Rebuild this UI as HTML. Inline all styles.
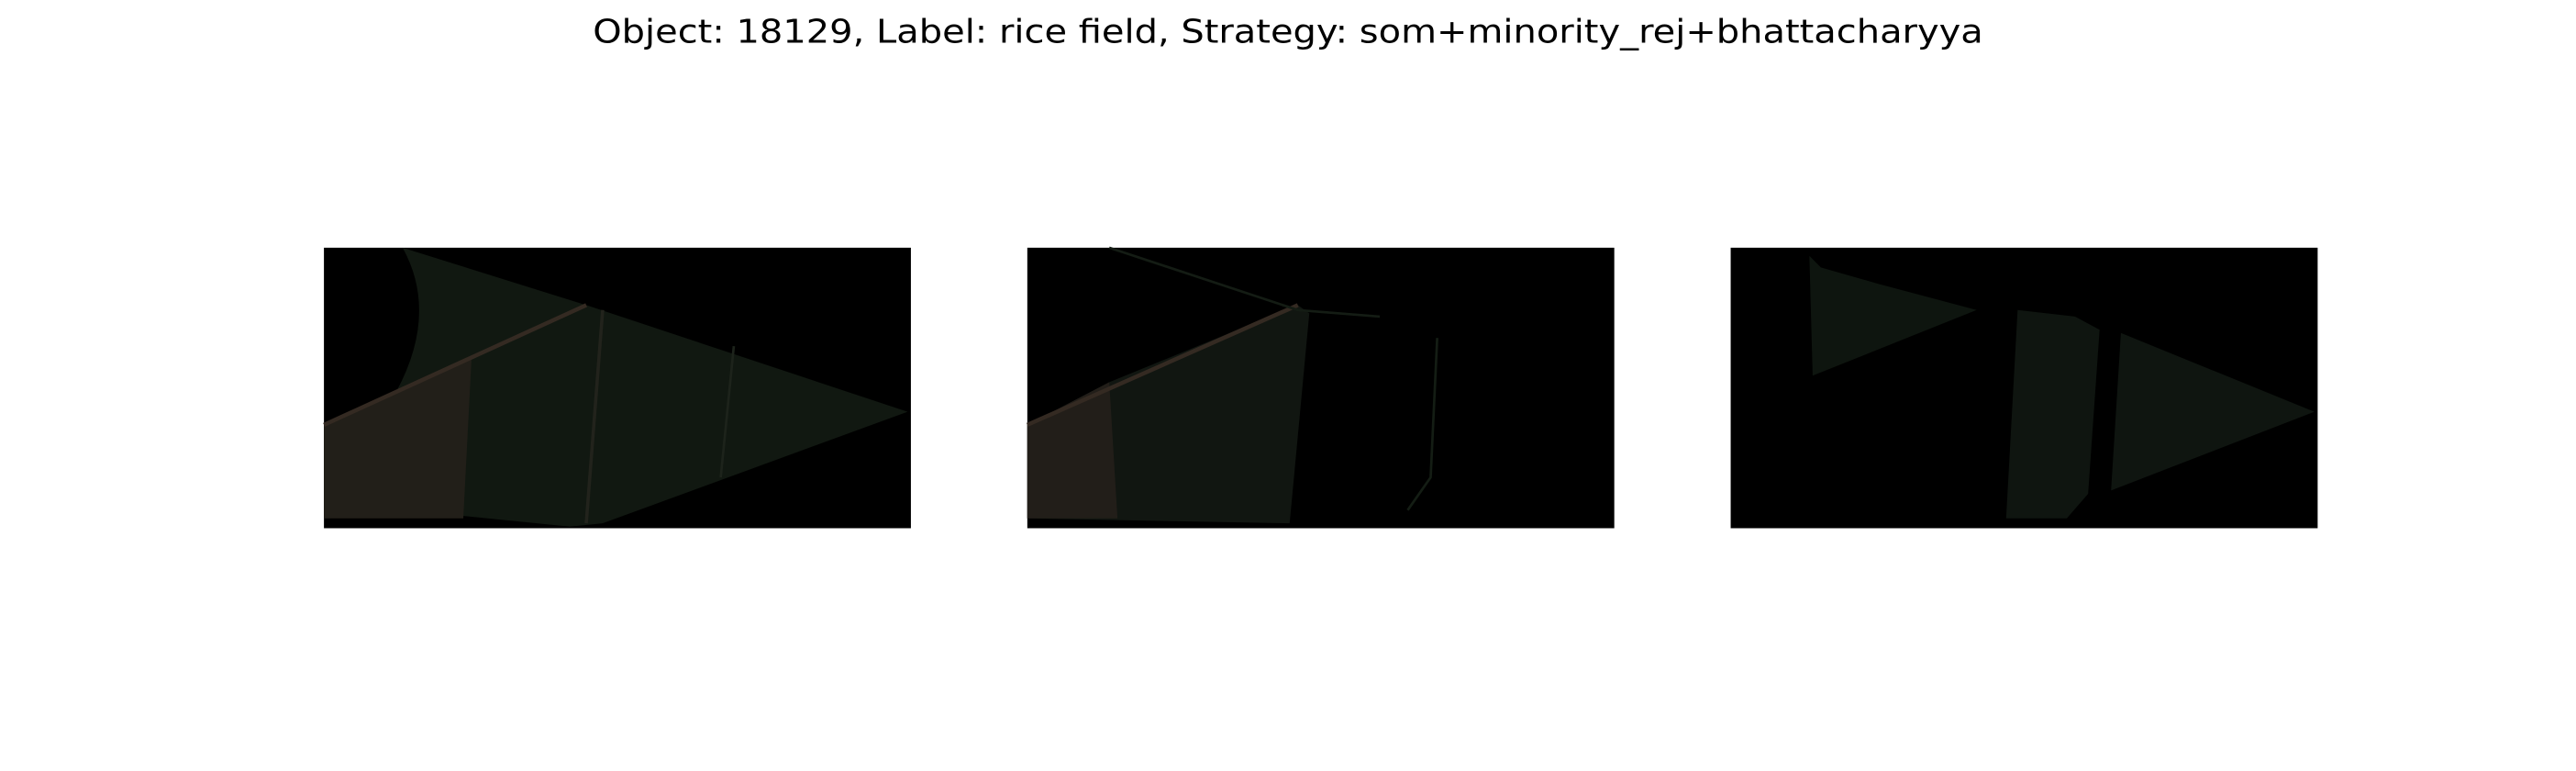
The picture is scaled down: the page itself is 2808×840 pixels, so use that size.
<!DOCTYPE html>
<html><head><meta charset="utf-8"><style>
html,body{margin:0;padding:0;background:#fff;}
svg{display:block;}
</style></head><body>
<svg width="2808" height="840" viewBox="0 0 1568 470" xmlns="http://www.w3.org/2000/svg">
<text x="784" y="26" text-anchor="middle" font-family="DejaVu Sans, Liberation Sans, sans-serif" font-size="20" textLength="848" lengthAdjust="spacingAndGlyphs" fill="#000">Object: 18129, Label: rice field, Strategy: som+minority_rej+bhattacharyya</text>

<g transform="translate(196,151)">
<rect width="358" height="171" fill="#000"/>
<path d="M48,0 Q70,40 44,88 L0,108 L0,165 L80,163 L150,170 L170,168 L356,100 L160,35 Z" fill="#111811"/>
<path d="M0,108 L44,88 L90,68 L85,165 L0,165 Z" fill="#221f19"/>
<path d="M0,108 L160,35" stroke="#342a22" stroke-width="2.5" fill="none"/>
<path d="M170,38 L160,168" stroke="#22231c" stroke-width="2" fill="none"/>
<path d="M250,60 L242,140" stroke="#1d231b" stroke-width="1.5" fill="none"/>
</g>

<g transform="translate(625,151)">
<rect width="358" height="171" fill="#000"/>
<path d="M0,108 L50,82 L165,35 L172,40 L160,168 L0,165 Z" fill="#111611"/>
<path d="M0,108 L50,82 L55,165 L0,165 Z" fill="#221e19"/>
<path d="M0,108 L165,35" stroke="#342a22" stroke-width="2.5" fill="none"/>
<path d="M50,0 L165,38 L215,42" stroke="#141c14" stroke-width="1.5" fill="none"/>
<path d="M250,55 L246,140 L232,160" stroke="#141d14" stroke-width="1.5" fill="none"/>
</g>

<g transform="translate(1054,151)">
<rect width="358" height="171" fill="#000"/>
<path d="M48,5 L55,12 L90,22 L150,38 L50,78 Z" fill="#0e150f"/>
<path d="M175,38 L210,42 L225,50 L218,150 L205,165 L168,165 Z" fill="#0f1510"/>
<path d="M238,52 L356,100 L232,148 Z" fill="#0f1510"/>
</g>
</svg>
</body></html>
